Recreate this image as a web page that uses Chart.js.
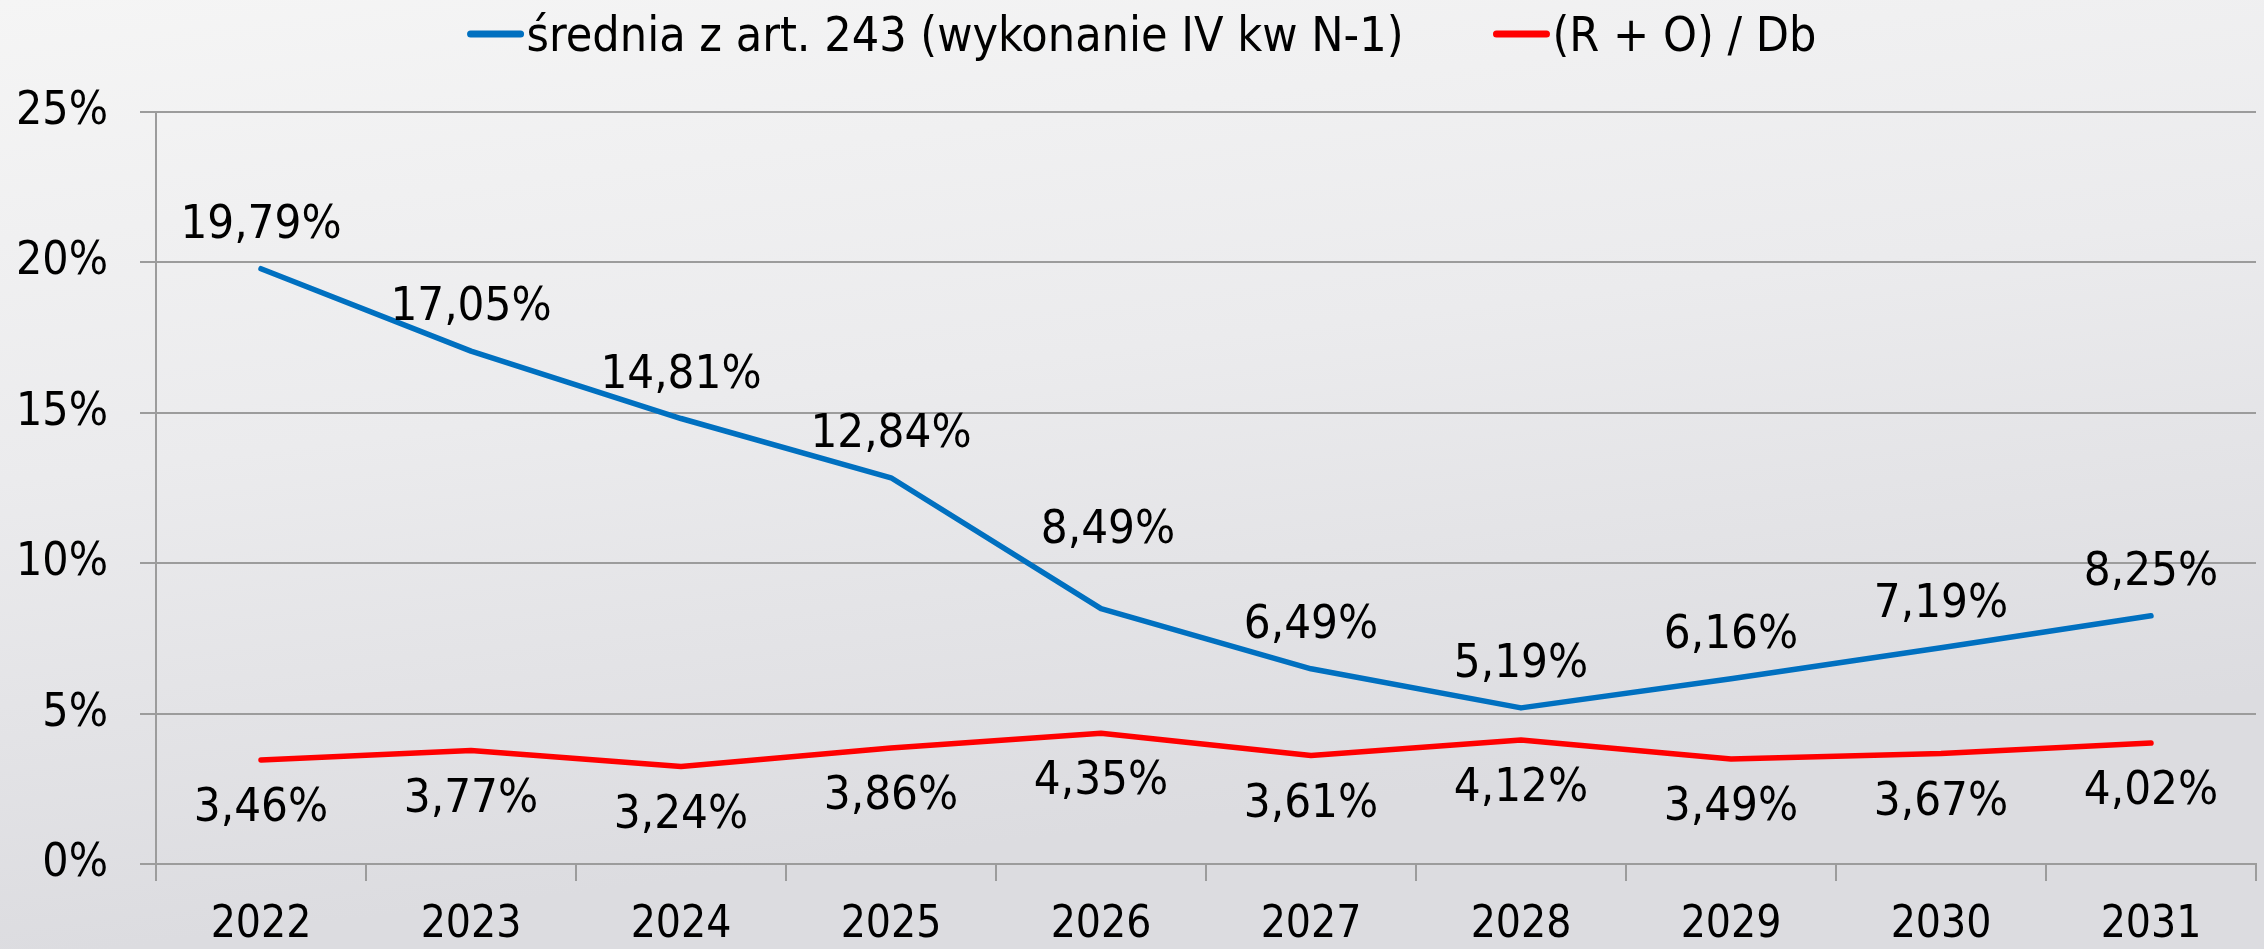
<!DOCTYPE html>
<html>
<head>
<meta charset="utf-8">
<script src="https://cdn.jsdelivr.net/npm/chart.js@4/dist/chart.umd.min.js"></script>
<style>
  html, body { margin: 0; padding: 0; background: #eeeeee; }
  #wrap { width: 2264px; height: 949px; position: relative; }
  canvas { display: block; }
</style>
</head>
<body>
<div id="wrap"><canvas id="c" width="2264" height="949"></canvas></div>
<script>
const categories = ['2022','2023','2024','2025','2026','2027','2028','2029','2030','2031'];
const seriesNames = ['średnia z art. 243 (wykonanie IV kw N-1)', '(R + O) / Db'];
const sredniaValues = [19.79, 17.05, 14.81, 12.84, 8.49, 6.49, 5.19, 6.16, 7.19, 8.25];
const roDbValues = [3.46, 3.77, 3.24, 3.86, 4.35, 3.61, 4.12, 3.49, 3.67, 4.02];
const yTickValues = [0, 5, 10, 15, 20, 25];

// Detect whether a condensed Tahoma-like face is installed
function fontInstalled(name) {
  const cv = document.createElement('canvas').getContext('2d');
  const s = 'średnia 2022 19,79% abcdefghijklmnopqrstuvwxyz';
  cv.font = "40px monospace"; const a = cv.measureText(s).width;
  cv.font = "40px '" + name + "', monospace"; const b = cv.measureText(s).width;
  cv.font = "40px serif"; const c = cv.measureText(s).width;
  cv.font = "40px '" + name + "', serif"; const d = cv.measureText(s).width;
  return a !== b || c !== d;
}
const COND = fontInstalled('DejaVu Sans Condensed');
const FONT = COND ? "'DejaVu Sans Condensed', 'DejaVu Sans', sans-serif" : "'DejaVu Sans', Verdana, sans-serif";
const SZ = COND ? { legend: 48, y: 46, x: 44, label: 47 } : { legend: 44, y: 42, x: 40, label: 43 };

const fmt = v => v.toFixed(2).replace('.', ',') + '%';

const bgPlugin = {
  id: 'bg',
  beforeDraw(chart) {
    const ctx = chart.ctx;
    const g = ctx.createLinearGradient(0, 0, chart.width * 0.05, chart.height);
    g.addColorStop(0, '#f5f5f5');
    g.addColorStop(0.5, '#ebebed');
    g.addColorStop(1, '#dcdce0');
    ctx.save();
    ctx.fillStyle = g;
    ctx.fillRect(0, 0, chart.width, chart.height);
    ctx.restore();
  }
};

const labelPlugin = {
  id: 'valueLabels',
  afterDatasetsDraw(chart) {
    const ctx = chart.ctx;
    ctx.save();
    ctx.font = SZ.label + "px " + FONT;
    ctx.fillStyle = '#000000';
    ctx.textAlign = 'center';
    ctx.textBaseline = 'middle';
    chart.data.datasets.forEach((ds, i) => {
      const meta = chart.getDatasetMeta(i);
      const off = ds.labelOffset;
      const nudge = ds.labelNudge || {};
      meta.data.forEach((pt, j) => {
        const n = nudge[j] || [0, 0];
        ctx.fillText(fmt(ds.data[j]), pt.x + n[0], pt.y + off + n[1]);
      });
    });
    ctx.restore();
  }
};

const legendPlugin = {
  id: 'customLegend',
  afterDraw(chart) {
    const ctx = chart.ctx;
    ctx.save();
    ctx.font = SZ.legend + "px " + FONT;
    const sw = 56, gapText = 3, gapItem = 90;
    const items = chart.data.datasets.map(ds => ({text: ds.label, color: ds.borderColor, w: ctx.measureText(ds.label).width}));
    let total = items.reduce((s, it) => s + sw + gapText + it.w, 0) + gapItem * (items.length - 1);
    let x = chart.width / 2 + 10 - total / 2;
    const yLine = 34, yText = 51;
    items.forEach(it => {
      ctx.strokeStyle = it.color;
      ctx.lineWidth = 7;
      ctx.lineCap = 'round';
      ctx.beginPath();
      ctx.moveTo(x + 3, yLine);
      ctx.lineTo(x + sw - 3, yLine);
      ctx.stroke();
      ctx.fillStyle = '#000';
      ctx.textAlign = 'left';
      ctx.textBaseline = 'alphabetic';
      ctx.fillText(it.text, x + sw + gapText, yText);
      x += sw + gapText + it.w + gapItem;
    });
    ctx.restore();
  }
};

new Chart(document.getElementById('c'), {
  type: 'line',
  data: {
    labels: categories,
    datasets: [
      {
        label: seriesNames[0],
        data: sredniaValues,
        borderColor: '#0070C0',
        backgroundColor: '#0070C0',
        borderWidth: 5.5,
        pointRadius: 0,
        tension: 0,
        borderCapStyle: 'round',
        borderJoinStyle: 'round',
        labelOffset: -43,
        labelNudge: { 4: [7, -35] }
      },
      {
        label: seriesNames[1],
        data: roDbValues,
        borderColor: '#FF0000',
        backgroundColor: '#FF0000',
        borderWidth: 5.5,
        pointRadius: 0,
        tension: 0,
        borderCapStyle: 'round',
        borderJoinStyle: 'round',
        labelOffset: 49
      }
    ]
  },
  options: {
    responsive: false,
    animation: false,
    devicePixelRatio: 1,
    layout: { padding: { top: 112, left: 0, right: 8, bottom: 0 } },
    plugins: {
      legend: { display: false },
      tooltip: { enabled: false }
    },
    scales: {
      x: {
        offset: true,
        afterFit(scale) { scale.height = 85; },
        grid: {
          offset: true,
          drawOnChartArea: false,
          drawTicks: true,
          tickLength: 17,
          color: '#9c9c9c',
          lineWidth: 2
        },
        border: { display: true, color: '#9c9c9c', width: 2 },
        ticks: {
          font: { family: FONT, size: SZ.x },
          color: '#000',
          padding: 18,
          maxRotation: 0,
          autoSkip: false
        }
      },
      y: {
        min: 0,
        max: 25,
        afterBuildTicks(scale) { scale.ticks = yTickValues.map(v => ({value: v})); },
        afterFit(scale) { scale.width = 156; },
        grid: {
          color: '#9c9c9c',
          lineWidth: 2,
          tickLength: 16
        },
        border: { display: true, color: '#9c9c9c', width: 2 },
        ticks: {
          font: { family: FONT, size: SZ.y },
          color: '#000',
          padding: 32,
          callback: v => v + '%'
        }
      }
    }
  },
  plugins: [bgPlugin, labelPlugin, legendPlugin]
});
</script>
</body>
</html>
